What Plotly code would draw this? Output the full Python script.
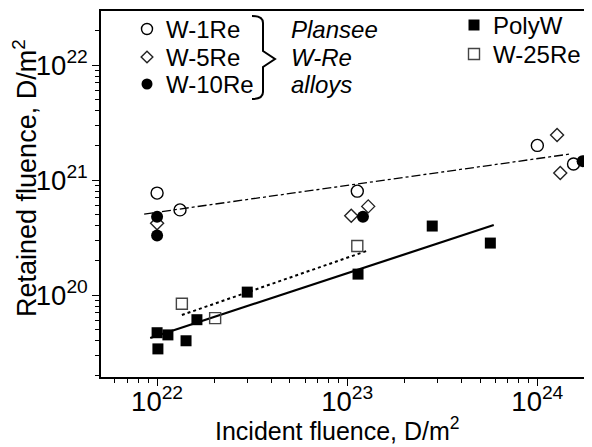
import plotly.graph_objects as go

# ---- data ----
w1re_x = [1.0e22, 1.32e22, 1.13e23, 1.0e24, 1.55e24]
w1re_y = [7.7e20, 5.5e20, 8.0e20, 2.0e21, 1.38e21]

w5re_x = [1.0e22, 1.05e23, 1.29e23, 1.27e24, 1.32e24]
w5re_y = [4.2e20, 4.9e20, 5.9e20, 2.46e21, 1.15e21]

w10re_x = [1.0e22, 1.0e22, 1.21e23, 1.73e24]
w10re_y = [4.8e20, 3.3e20, 4.8e20, 1.46e21]

polyw_x = [1.0e22, 1.14e22, 1.01e22, 1.42e22, 1.62e22, 2.98e22, 1.14e23, 2.8e23, 5.66e23]
polyw_y = [4.7e19, 4.5e19, 3.4e19, 4.0e19, 6.1e19, 1.06e20, 1.52e20, 3.98e20, 2.83e20]

w25re_x = [1.35e22, 2.02e22, 1.13e23]
w25re_y = [8.4e19, 6.3e19, 2.67e20]

# fitted trend lines (end points)
fit_alloys_x = [8.55e21, 1.47e24]
fit_alloys_y = [5.06e20, 1.68e21]
fit_w25re_x = [1.35e22, 1.27e23]
fit_w25re_y = [6.7e19, 2.42e20]
fit_polyw_x = [9.2e21, 5.9e23]
fit_polyw_y = [4.23e19, 4.06e20]

legend_left_labels = ["W-1Re", "W-5Re", "W-10Re"]
legend_right_labels = ["PolyW", "W-25Re"]
alloy_note = ["Plansee", "W-Re", "alloys"]

x_title = "Incident fluence, D/m<sup>2</sup>"
y_title = "Retained fluence, D/m<sup>2</sup>"

FONT = "Liberation Sans, Arial, sans-serif"

# page offset (default body margin of the html page) and plot box in screen pixels
OFF = 8
W, H = 592, 447
L, R, T, B = 101, 590, 11, 377
def px(xp):
    return (xp - L) / (R - L)
def py(yp):
    return (B - yp) / (B - T)

open_circle = dict(symbol="circle-open", size=12, color="black", line=dict(width=1.4, color="black"))
open_diamond = dict(symbol="diamond-open", size=10, color="#222", line=dict(width=1.4, color="#222"))
filled_circle = dict(symbol="circle", size=12, color="black", line=dict(width=0))
filled_square = dict(symbol="square", size=11, color="black", line=dict(width=0))
open_square = dict(symbol="square-open", size=11, color="#444", line=dict(width=1.4, color="#444"))

fig = go.Figure()

# trend lines
fig.add_trace(go.Scatter(x=fit_alloys_x, y=fit_alloys_y, mode="lines",
                         line=dict(color="black", width=1.3, dash="dashdot"), showlegend=False))
fig.add_trace(go.Scatter(x=fit_w25re_x, y=fit_w25re_y, mode="lines",
                         line=dict(color="black", width=2, dash="dot"), showlegend=False))
fig.add_trace(go.Scatter(x=fit_polyw_x, y=fit_polyw_y, mode="lines",
                         line=dict(color="black", width=2.2), showlegend=False))

# data markers
fig.add_trace(go.Scatter(x=w1re_x, y=w1re_y, mode="markers", marker=open_circle, showlegend=False))
fig.add_trace(go.Scatter(x=w5re_x, y=w5re_y, mode="markers", marker=open_diamond, showlegend=False))
fig.add_trace(go.Scatter(x=w10re_x, y=w10re_y, mode="markers", marker=filled_circle, showlegend=False))
fig.add_trace(go.Scatter(x=polyw_x, y=polyw_y, mode="markers", marker=filled_square, showlegend=False))
fig.add_trace(go.Scatter(x=w25re_x, y=w25re_y, mode="markers", marker=open_square, showlegend=False))

# ---- hand-made legend on an overlay axis laid out in pixel units ----
left_rows = [29, 57, 84]
right_rows = [25, 54]
left_styles = [open_circle, open_diamond, filled_circle]
right_styles = [filled_square, open_square]

for yy, st in zip(left_rows, left_styles):
    s = dict(st)
    s["size"] = st["size"] - 1
    fig.add_trace(go.Scatter(x=[147], y=[yy], mode="markers", marker=s,
                             xaxis="x2", yaxis="y2", showlegend=False))
for yy, st in zip(right_rows, right_styles):
    fig.add_trace(go.Scatter(x=[474], y=[yy], mode="markers", marker=st,
                             xaxis="x2", yaxis="y2", showlegend=False))

annotations = []
for yy, lab in zip(left_rows, legend_left_labels):
    annotations.append(dict(x=164, y=yy, xref="x2", yref="y2", text=lab, showarrow=False,
                            xanchor="left", yanchor="middle", font=dict(size=24, color="black", family=FONT)))
for yy, lab in zip(left_rows, alloy_note):
    annotations.append(dict(x=289, y=yy, xref="x2", yref="y2", text="<i>" + lab + "</i>", showarrow=False,
                            xanchor="left", yanchor="middle", font=dict(size=24, color="black", family=FONT)))
for yy, lab in zip(right_rows, legend_right_labels):
    annotations.append(dict(x=491, y=yy, xref="x2", yref="y2", text=lab, showarrow=False,
                            xanchor="left", yanchor="middle", font=dict(size=24, color="black", family=FONT)))

# axis titles
annotations.append(dict(x=px(337), y=py(429), xref="paper", yref="paper", text=x_title, showarrow=False,
                        xanchor="center", yanchor="middle", font=dict(size=25, color="black", family=FONT)))
annotations.append(dict(x=px(25), y=py(178), xref="paper", yref="paper", text=y_title, showarrow=False,
                        textangle=-90, xanchor="center", yanchor="middle",
                        font=dict(size=27, color="black", family=FONT)))

shapes = [dict(type="path", xref="x2", yref="y2",
               path="M 252,16 Q 263,16 263,23 L 263,51 L 275,59 L 263,67 L 263,92 Q 263,99 252,99",
               line=dict(color="black", width=2))]

axis_common = dict(
    type="log", showgrid=False, zeroline=False, automargin=False,
    showline=True, linecolor="black", linewidth=1.6, mirror=True,
    ticks="outside", ticklen=7, tickwidth=1.4, tickcolor="black",
    dtick=1, exponentformat="power", showexponent="all",
    minor=dict(ticks="outside", ticklen=4, tickwidth=1.2, tickcolor="black", dtick="D1", showgrid=False),
)

fig.update_layout(
    width=W - OFF, height=H - OFF,
    margin=dict(l=L - OFF, r=W - R, t=T - OFF, b=H - B),
    paper_bgcolor="white", plot_bgcolor="white",
    font=dict(family=FONT, color="black"),
    xaxis=dict(axis_common, range=[21.705, 24.277], ticklabelstandoff=-7,
               tickfont=dict(size=22, color="black", family=FONT)),
    yaxis=dict(axis_common, range=[19.287, 22.47],
               tickfont=dict(size=22, color="black", family=FONT)),
    xaxis2=dict(overlaying="x", anchor="y2", range=[L, R], visible=False, fixedrange=True),
    yaxis2=dict(overlaying="y", anchor="x2", range=[B, T], visible=False, fixedrange=True),
    annotations=annotations,
    shapes=shapes,
    showlegend=False,
)

fig.write_html("out.html")
